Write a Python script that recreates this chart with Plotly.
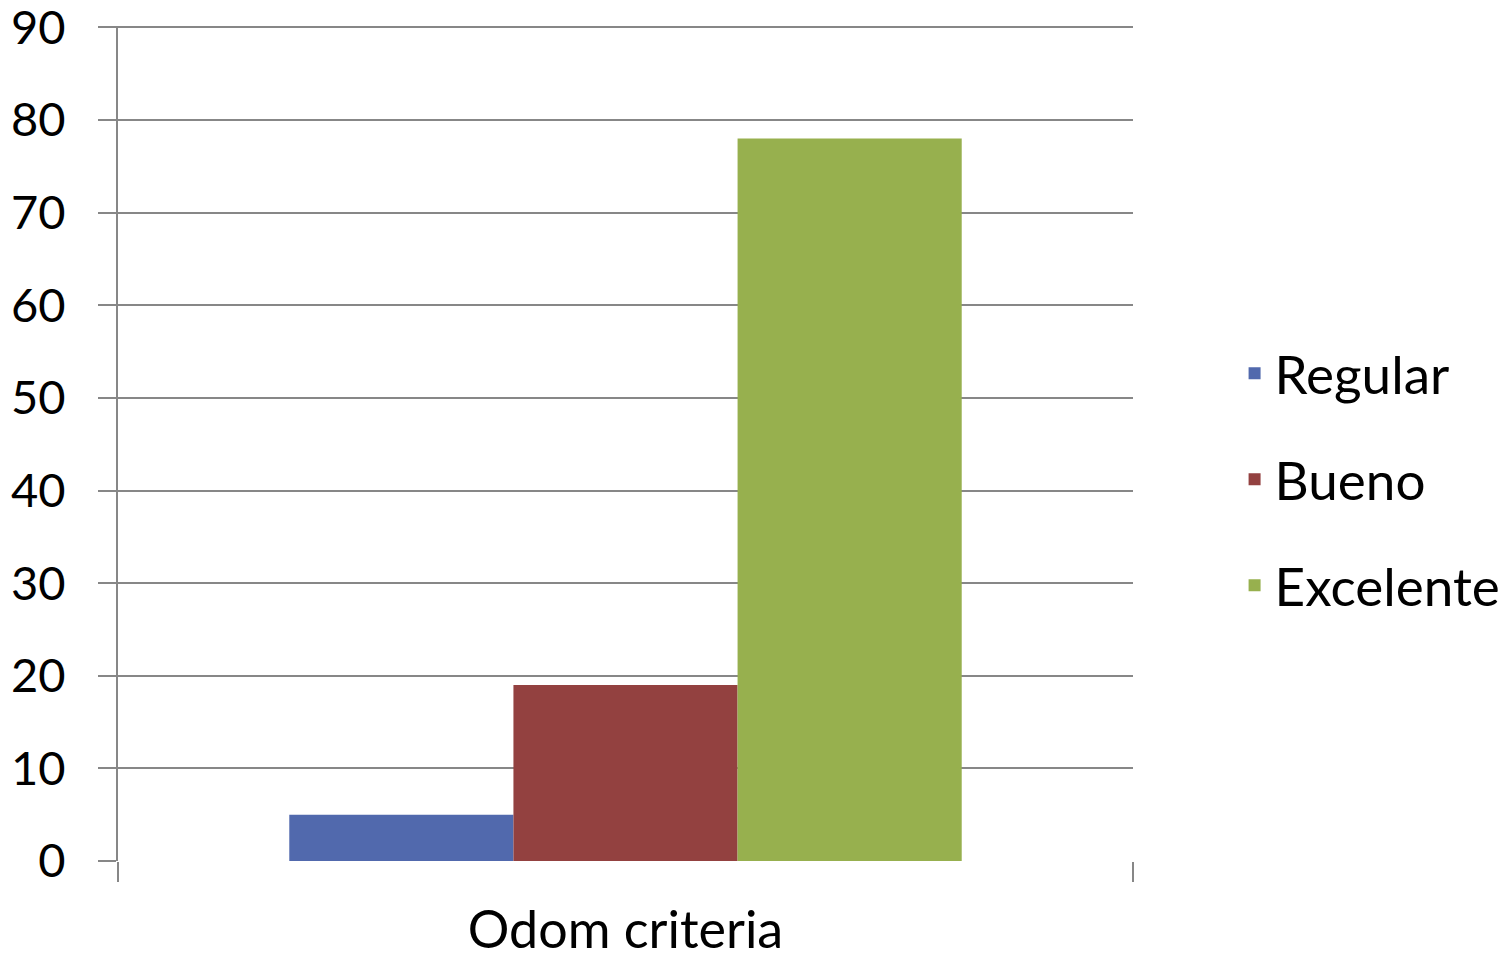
import plotly.graph_objects as go

categories = ["Odom criteria"]
series = ["Regular", "Bueno", "Excelente"]
values = [[5], [19], [78]]
colors = ["#5169AD", "#934140", "#97B04E"]
y_ticks = list(range(0, 100, 10))

GRID = "#878787"
FONT = "Lato"

fig = go.Figure()
for name, vals, color in zip(series, values, colors):
    fig.add_trace(go.Bar(
        x=categories, y=vals, name=name, marker_color=color,
        marker_line_width=0, legendgroup=name,
    ))

# page body adds an 8px offset, margins are set to compensate
fig.update_layout(
    width=1508, height=960,
    margin=dict(l=110, r=382, t=18, b=107),
    plot_bgcolor="white", paper_bgcolor="white",
    barmode="group", bargap=0.3375, bargroupgap=0,
    font=dict(family=FONT, color="black"),
    legend=dict(
        x=1.099, xanchor="left", y=0.457, yanchor="middle",
        font=dict(size=53, family=FONT), tracegroupgap=34,
        itemwidth=30,
    ),
    showlegend=True,
)
fig.update_xaxes(
    type="category", tickson="boundaries", ticks="outside", ticklen=20,
    tickwidth=2, tickcolor=GRID, showline=False, showgrid=False,
    tickfont=dict(size=52, family=FONT), ticklabelstandoff=34,
    automargin=False,
)
fig.update_yaxes(
    range=[0, 90.15], tickvals=y_ticks, ticks="outside", ticklen=18,
    tickwidth=2, tickcolor=GRID, showgrid=True, gridcolor=GRID, gridwidth=2,
    showline=True, linecolor=GRID, linewidth=2, zeroline=False,
    tickfont=dict(size=47, family=FONT), ticklabelstandoff=23,
    ticklabeloverflow="allow", automargin=False,
)

fig.write_html("out.html")
